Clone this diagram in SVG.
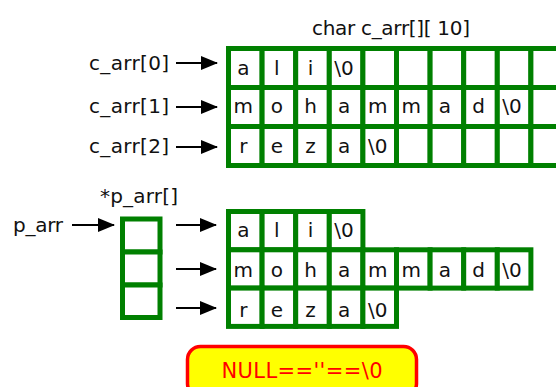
<svg xmlns="http://www.w3.org/2000/svg" width="556" height="387" viewBox="0 0 556 387">
<style>
  .cell { fill: #ffffff; stroke: #008000; stroke-width: 5; }
  .t { font-family: "DejaVu Sans", "Liberation Sans", sans-serif; font-size: 20px; fill: #111111; }
  .c { text-anchor: middle; }
  .arrow { stroke: #000000; stroke-width: 2; fill: none; marker-end: url(#ah); }
  .null { fill: #ffff00; stroke: #ff0000; stroke-width: 3.5; }
  .nullt { font-family: "DejaVu Sans", "Liberation Sans", sans-serif; font-size: 21px; fill: #ff0000; text-anchor: middle; }
</style>
<defs>
  <marker id="ah" markerUnits="userSpaceOnUse" markerWidth="17" markerHeight="14" refX="16" refY="7" orient="auto">
    <path d="M0,0 L17,7 L0,14 Z" fill="#000000"/>
  </marker>
</defs>
<rect x="0" y="0" width="556" height="387" fill="#ffffff"/>

<g id="title">
  <text class="t" x="312" y="35" textLength="158">char c_arr[][ 10]</text>
</g>

<g id="c_arr_labels">
  <text class="t" x="89" y="70" textLength="80">c_arr[0]</text>
  <text class="t" x="89" y="113" textLength="80">c_arr[1]</text>
  <text class="t" x="89" y="153" textLength="80">c_arr[2]</text>
</g>

<g id="c_arr_grid">
  <g id="c_arr_row0">
    <rect class="cell" x="228.5" y="48.5" width="33.6" height="39"/>
    <rect class="cell" x="262.1" y="48.5" width="33.6" height="39"/>
    <rect class="cell" x="295.7" y="48.5" width="33.6" height="39"/>
    <rect class="cell" x="329.3" y="48.5" width="33.6" height="39"/>
    <rect class="cell" x="362.9" y="48.5" width="33.6" height="39"/>
    <rect class="cell" x="396.5" y="48.5" width="33.6" height="39"/>
    <rect class="cell" x="430.1" y="48.5" width="33.6" height="39"/>
    <rect class="cell" x="463.7" y="48.5" width="33.6" height="39"/>
    <rect class="cell" x="497.3" y="48.5" width="33.6" height="39"/>
    <rect class="cell" x="530.9" y="48.5" width="33.6" height="39"/>
    <text class="t c" x="243.3" y="75">a</text>
    <text class="t c" x="276.9" y="75">l</text>
    <text class="t c" x="310.5" y="75">i</text>
    <text class="t c" x="344.1" y="75">\0</text>
  </g>
  <g id="c_arr_row1">
    <rect class="cell" x="228.5" y="87.5" width="33.6" height="39"/>
    <rect class="cell" x="262.1" y="87.5" width="33.6" height="39"/>
    <rect class="cell" x="295.7" y="87.5" width="33.6" height="39"/>
    <rect class="cell" x="329.3" y="87.5" width="33.6" height="39"/>
    <rect class="cell" x="362.9" y="87.5" width="33.6" height="39"/>
    <rect class="cell" x="396.5" y="87.5" width="33.6" height="39"/>
    <rect class="cell" x="430.1" y="87.5" width="33.6" height="39"/>
    <rect class="cell" x="463.7" y="87.5" width="33.6" height="39"/>
    <rect class="cell" x="497.3" y="87.5" width="33.6" height="39"/>
    <rect class="cell" x="530.9" y="87.5" width="33.6" height="39"/>
    <text class="t c" x="243.3" y="113">m</text>
    <text class="t c" x="276.9" y="113">o</text>
    <text class="t c" x="310.5" y="113">h</text>
    <text class="t c" x="344.1" y="113">a</text>
    <text class="t c" x="377.7" y="113">m</text>
    <text class="t c" x="411.3" y="113">m</text>
    <text class="t c" x="444.9" y="113">a</text>
    <text class="t c" x="478.5" y="113">d</text>
    <text class="t c" x="512.1" y="113">\0</text>
  </g>
  <g id="c_arr_row2">
    <rect class="cell" x="228.5" y="126.5" width="33.6" height="39"/>
    <rect class="cell" x="262.1" y="126.5" width="33.6" height="39"/>
    <rect class="cell" x="295.7" y="126.5" width="33.6" height="39"/>
    <rect class="cell" x="329.3" y="126.5" width="33.6" height="39"/>
    <rect class="cell" x="362.9" y="126.5" width="33.6" height="39"/>
    <rect class="cell" x="396.5" y="126.5" width="33.6" height="39"/>
    <rect class="cell" x="430.1" y="126.5" width="33.6" height="39"/>
    <rect class="cell" x="463.7" y="126.5" width="33.6" height="39"/>
    <rect class="cell" x="497.3" y="126.5" width="33.6" height="39"/>
    <rect class="cell" x="530.9" y="126.5" width="33.6" height="39"/>
    <text class="t c" x="243.3" y="153">r</text>
    <text class="t c" x="276.9" y="153">e</text>
    <text class="t c" x="310.5" y="153">z</text>
    <text class="t c" x="344.1" y="153">a</text>
    <text class="t c" x="377.7" y="153">\0</text>
  </g>
</g>

<g id="p_arr_label">
  <text class="t" x="13" y="232" textLength="50">p_arr</text>
</g>

<g id="p_arr_array">
  <text class="t" x="100" y="203" textLength="78">*p_arr[]</text>
  <rect class="cell" x="122.5" y="219" width="37.5" height="33"/>
  <rect class="cell" x="122.5" y="252" width="37.5" height="33"/>
  <rect class="cell" x="122.5" y="285" width="37.5" height="32.5"/>
</g>

<g id="str_ali">
  <rect class="cell" x="228.5" y="211.5" width="33.6" height="38.3"/>
  <rect class="cell" x="262.1" y="211.5" width="33.6" height="38.3"/>
  <rect class="cell" x="295.7" y="211.5" width="33.6" height="38.3"/>
  <rect class="cell" x="329.3" y="211.5" width="33.6" height="38.3"/>
  <text class="t c" x="243.3" y="236.5">a</text>
  <text class="t c" x="276.9" y="236.5">l</text>
  <text class="t c" x="310.5" y="236.5">i</text>
  <text class="t c" x="344.1" y="236.5">\0</text>
</g>

<g id="str_mohammad">
  <rect class="cell" x="228.5" y="249.8" width="33.6" height="38.3"/>
  <rect class="cell" x="262.1" y="249.8" width="33.6" height="38.3"/>
  <rect class="cell" x="295.7" y="249.8" width="33.6" height="38.3"/>
  <rect class="cell" x="329.3" y="249.8" width="33.6" height="38.3"/>
  <rect class="cell" x="362.9" y="249.8" width="33.6" height="38.3"/>
  <rect class="cell" x="396.5" y="249.8" width="33.6" height="38.3"/>
  <rect class="cell" x="430.1" y="249.8" width="33.6" height="38.3"/>
  <rect class="cell" x="463.7" y="249.8" width="33.6" height="38.3"/>
  <rect class="cell" x="497.3" y="249.8" width="33.6" height="38.3"/>
  <text class="t c" x="243.3" y="276.5">m</text>
  <text class="t c" x="276.9" y="276.5">o</text>
  <text class="t c" x="310.5" y="276.5">h</text>
  <text class="t c" x="344.1" y="276.5">a</text>
  <text class="t c" x="377.7" y="276.5">m</text>
  <text class="t c" x="411.3" y="276.5">m</text>
  <text class="t c" x="444.9" y="276.5">a</text>
  <text class="t c" x="478.5" y="276.5">d</text>
  <text class="t c" x="512.1" y="276.5">\0</text>
</g>

<g id="str_reza">
  <rect class="cell" x="228.5" y="288.1" width="33.6" height="38.3"/>
  <rect class="cell" x="262.1" y="288.1" width="33.6" height="38.3"/>
  <rect class="cell" x="295.7" y="288.1" width="33.6" height="38.3"/>
  <rect class="cell" x="329.3" y="288.1" width="33.6" height="38.3"/>
  <rect class="cell" x="362.9" y="288.1" width="33.6" height="38.3"/>
  <text class="t c" x="243.3" y="316.5">r</text>
  <text class="t c" x="276.9" y="316.5">e</text>
  <text class="t c" x="310.5" y="316.5">z</text>
  <text class="t c" x="344.1" y="316.5">a</text>
  <text class="t c" x="377.7" y="316.5">\0</text>
</g>

<g id="null_note">
  <rect class="null" x="187.5" y="346.5" width="229" height="50" rx="13" ry="13"/>
  <text class="nullt" x="302" y="378" textLength="161">NULL==''==\0</text>
</g>

<g id="connectors">
  <line class="arrow" x1="176" y1="63" x2="217" y2="63"/>
  <line class="arrow" x1="176" y1="107" x2="217" y2="107"/>
  <line class="arrow" x1="176" y1="147" x2="217" y2="147"/>
  <line class="arrow" x1="72" y1="225" x2="114" y2="225"/>
  <line class="arrow" x1="176" y1="225" x2="216" y2="225"/>
  <line class="arrow" x1="176" y1="269" x2="216" y2="269"/>
  <line class="arrow" x1="176" y1="308" x2="216" y2="308"/>
</g>
</svg>
